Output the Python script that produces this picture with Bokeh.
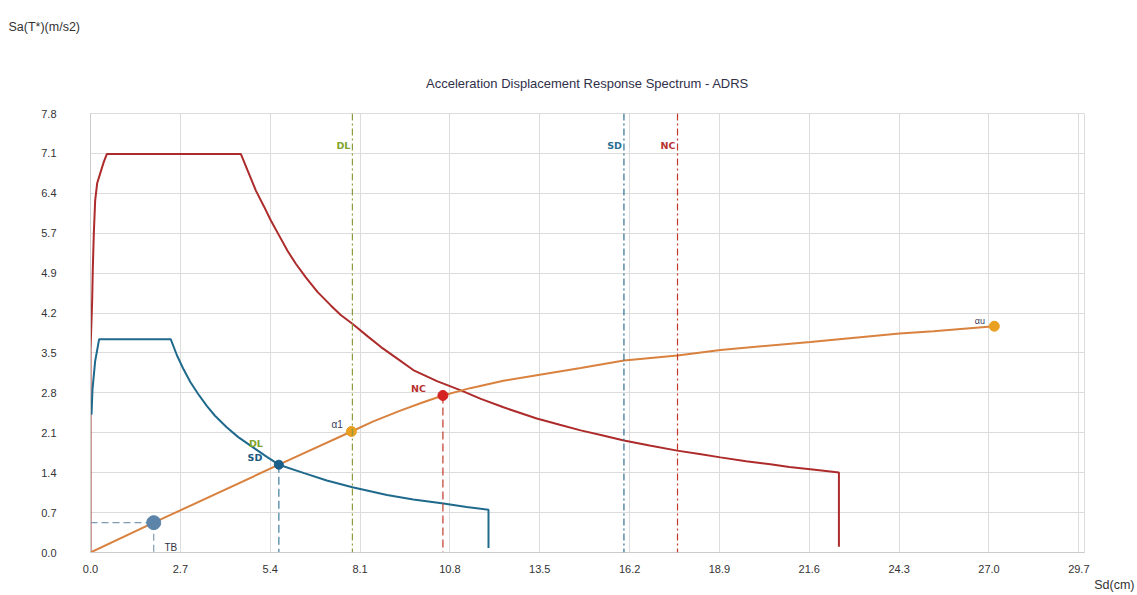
from bokeh.plotting import figure
from bokeh.models import Range1d, FixedTicker, Label, Span, Title
from bokeh.embed import file_html
from bokeh.resources import INLINE

# ---- data ----
x_ticks = [0.0, 2.7, 5.4, 8.1, 10.8, 13.5, 16.2, 18.9, 21.6, 24.3, 27.0, 29.7]
x_tick_labels = ["0.0", "2.7", "5.4", "8.1", "10.8", "13.5", "16.2", "18.9", "21.6", "24.3", "27.0", "29.7"]
y_ticks = [0.0, 0.709, 1.418, 2.127, 2.836, 3.545, 4.255, 4.964, 5.673, 6.382, 7.091, 7.8]
y_tick_labels = ["0.0", "0.7", "1.4", "2.1", "2.8", "3.5", "4.2", "4.9", "5.7", "6.4", "7.1", "7.8"]

# NC demand spectrum (red)
nc_spec_sd = [0.0, 0.0, 0.05, 0.07, 0.10, 0.14, 0.20, 0.32, 0.40, 0.49,
              4.52, 4.72, 4.97, 5.22, 5.42, 5.67, 5.92, 6.17, 6.47, 6.82, 7.22, 7.52, 7.88,
              8.33, 8.73, 9.23, 9.73, 10.43, 11.13, 11.73, 12.41, 13.41, 14.10, 14.73, 15.40,
              16.03, 16.80, 17.63, 18.30, 18.93, 19.70, 20.43, 21.00, 21.63, 22.10, 22.49, 22.49]
nc_spec_sa = [0.0, 3.59, 4.48, 5.06, 5.67, 6.25, 6.56, 6.79, 6.94, 7.08,
              7.08, 6.79, 6.43, 6.14, 5.90, 5.63, 5.36, 5.13, 4.89, 4.63, 4.39, 4.22, 4.06,
              3.84, 3.65, 3.44, 3.23, 3.04, 2.88, 2.73, 2.58, 2.38, 2.27, 2.17, 2.08,
              1.99, 1.90, 1.81, 1.75, 1.69, 1.62, 1.57, 1.52, 1.48, 1.45, 1.42, 0.10]

# SD demand spectrum (blue)
sd_spec_sd = [0.03, 0.06, 0.14, 0.26, 2.41, 2.60, 2.80, 3.00, 3.23, 3.50, 3.74, 4.10, 4.44, 4.95,
              5.30, 5.66, 6.42, 7.10, 7.87, 8.91, 9.70, 10.61, 11.30, 11.96, 11.96]
sd_spec_sa = [2.45, 2.90, 3.40, 3.79, 3.79, 3.50, 3.25, 3.03, 2.82, 2.60, 2.43, 2.22, 2.05, 1.84,
              1.70, 1.56, 1.41, 1.28, 1.16, 1.02, 0.94, 0.87, 0.81, 0.76, 0.08]

# capacity curve (orange)
cap_sd = [0.0, 1.90, 5.66, 7.84, 8.50, 9.31, 10.00, 10.59, 11.41, 12.41, 13.41, 14.73, 16.03,
          17.64, 18.93, 21.63, 24.31, 25.33, 27.16]
cap_sa = [0.0, 0.53, 1.56, 2.15, 2.33, 2.52, 2.67, 2.79, 2.92, 3.05, 3.15, 3.28, 3.41,
          3.50, 3.60, 3.74, 3.89, 3.93, 4.02]

# characteristic points
tb_pt = (1.90, 0.53)
sd_pt = (5.66, 1.56)
a1_pt = (7.84, 2.15)
nc_pt = (10.59, 2.79)
au_pt = (27.16, 4.02)

# limit-state displacements
dl_x = 7.87
sd_x = 16.03
nc_x = 17.64

TITLE = "Acceleration Displacement Response Spectrum - ADRS"
Y_TITLE = "Sa(T*)(m/s2)"
X_TITLE = "Sd(cm)"

RED = "#ad2b2b"
BLUE = "#1f6a8c"
ORANGE = "#d9823f"
GOLD = "#e9a021"
GREEN = "#7ea32a"
GRID = "#dcdcdc"
FONT = "Liberation Sans"

p = figure(width=1135, height=594, output_backend="svg", toolbar_location=None,
           x_range=Range1d(0, 29.87), y_range=Range1d(0, 7.8),
           min_border_left=90, min_border_right=51, min_border_top=113, min_border_bottom=42)
p.title = None
p.outline_line_color = GRID
p.background_fill_color = "white"
p.border_fill_color = "white"

# titles as layout panels (first added is nearest the frame)
p.add_layout(Title(text=TITLE, align="center", text_font=FONT, text_font_size="13px",
                   text_font_style="normal", text_color="#30304a", standoff=45), "above")
p.add_layout(Title(text=Y_TITLE, align="left", offset=-82, vertical_align="top",
                   text_font=FONT, text_font_size="12.5px",
                   text_font_style="normal", text_color="#333333", standoff=31), "above")
p.add_layout(Title(text=X_TITLE, align="right", offset=-50, text_font=FONT, text_font_size="12.5px",
                   text_font_style="normal", text_color="#333333", standoff=0), "below")

# axes
p.xaxis.ticker = FixedTicker(ticks=x_ticks)
p.xaxis.major_label_overrides = {t: l for t, l in zip(x_ticks, x_tick_labels)}
p.yaxis.ticker = FixedTicker(ticks=y_ticks)
p.yaxis.major_label_overrides = {t: l for t, l in zip(y_ticks, y_tick_labels)}
for ax in (p.xaxis[0], p.yaxis[0]):
    ax.axis_line_color = "#cccccc"
    ax.major_tick_line_color = None
    ax.minor_tick_line_color = None
    ax.major_tick_out = 0
    ax.major_tick_in = 0
    ax.major_label_text_font = FONT
    ax.major_label_text_font_size = "11px"
    ax.major_label_text_color = "#333333"
p.yaxis.major_label_standoff = 34
p.xaxis.major_label_standoff = 12
p.xgrid.ticker = FixedTicker(ticks=x_ticks)
p.ygrid.ticker = FixedTicker(ticks=y_ticks)
p.grid.grid_line_color = GRID
p.grid.grid_line_width = 1

# limit-state vertical lines
p.add_layout(Span(location=dl_x, dimension="height", line_color="#8f9c3e", line_width=1.2, line_dash="7 3 2 3"))
p.add_layout(Span(location=sd_x, dimension="height", line_color="#2f6f8f", line_width=1.2, line_dash="7 3 2 3"))
p.add_layout(Span(location=nc_x, dimension="height", line_color="#c0392b", line_width=1.2, line_dash="7 3 2 3"))

# curves
p.line(nc_spec_sd, nc_spec_sa, line_color=RED, line_width=2)
p.line(sd_spec_sd, sd_spec_sa, line_color=BLUE, line_width=2)
p.line(cap_sd, cap_sa, line_color=ORANGE, line_width=2)

# projection lines
p.line([0, tb_pt[0]], [tb_pt[1], tb_pt[1]], line_color="#7f9ab0", line_width=1.2, line_dash="7 4")
p.line([tb_pt[0], tb_pt[0]], [tb_pt[1], 0], line_color="#7f9ab0", line_width=1.2, line_dash="7 4")
p.line([sd_pt[0], sd_pt[0]], [sd_pt[1], 0], line_color="#3f7c9c", line_width=1.2, line_dash="8 4")
p.line([nc_pt[0], nc_pt[0]], [nc_pt[1], 0], line_color="#c0392b", line_width=1.2, line_dash="8 4")

# points
p.scatter([tb_pt[0]], [tb_pt[1]], size=14, fill_color="#5b84a8", line_color="#5b84a8")
p.scatter([sd_pt[0]], [sd_pt[1]], size=9, fill_color="#1a5f8a", line_color="#1a5f8a")
p.scatter([a1_pt[0]], [a1_pt[1]], size=10, fill_color=GOLD, line_color=GOLD)
p.scatter([nc_pt[0]], [nc_pt[1]], size=10, fill_color="#d42222", line_color="#d42222")
p.scatter([au_pt[0]], [au_pt[1]], size=10, fill_color=GOLD, line_color=GOLD)


def lab(x, y, text, color, size="10px", bold=False, align="left", font="DejaVu Sans"):
    p.add_layout(Label(x=x, y=y, text=text, text_color=color,
                       text_font_size=size, text_font=font,
                       text_font_style="bold" if bold else "normal",
                       text_align=align, text_baseline="middle"))


# limit-state labels at top
lab(dl_x - 0.06, 7.23, "DL", GREEN, "9.5px", True, "right")
lab(sd_x - 0.06, 7.23, "SD", "#2a6f90", "9.5px", True, "right")
lab(nc_x - 0.06, 7.23, "NC", "#b8312f", "9.5px", True, "right")

# point labels
lab(4.76, 1.94, "DL", GREEN, "9.5px", True)
lab(4.72, 1.68, "SD", "#1a5a80", "9.5px", True)
lab(9.63, 2.91, "NC", "#b8312f", "9.5px", True)
lab(7.24, 2.27, "\u03b11", "#3a3a5a", "10px", False, "left", FONT)
lab(26.57, 4.11, "\u03b1u", "#3a3a5a", "9px", False, "left", FONT)
lab(2.22, 0.08, "TB", "#333344", "10px", False, "left", FONT)

open("out.html", "w").write(file_html(p, INLINE))
